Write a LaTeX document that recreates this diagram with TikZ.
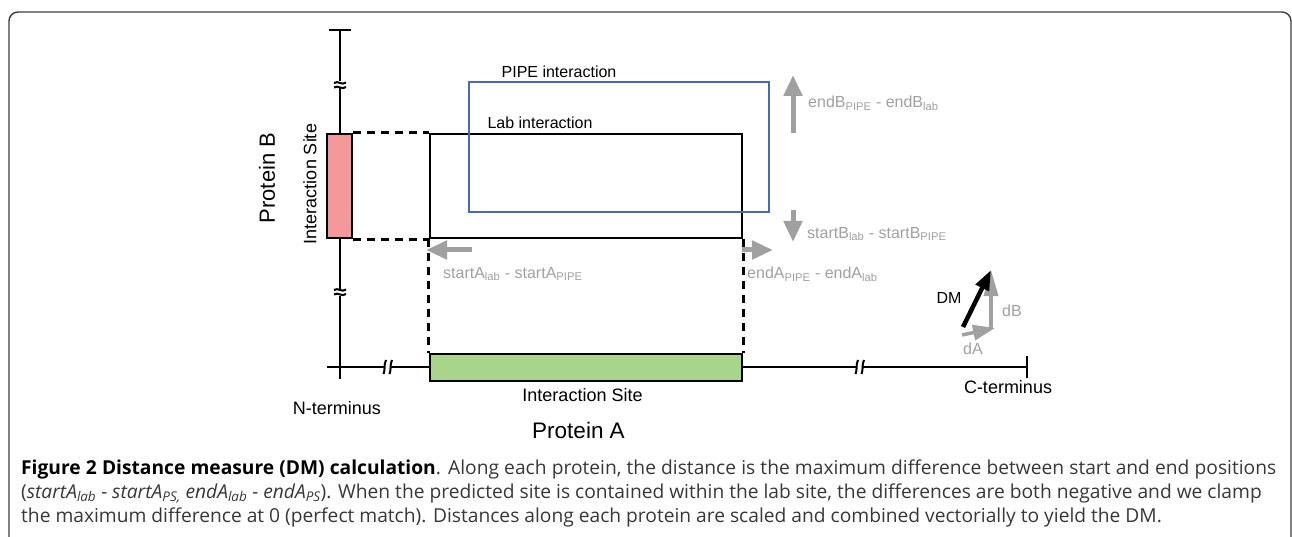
\documentclass[tikz,border=0pt]{standalone}
\usepackage{fontspec}
\setmainfont{Liberation Sans}
\newfontfamily\capfont{Open Sans}
\usetikzlibrary{arrows.meta}
\definecolor{redfill}{RGB}{244,153,154}
\definecolor{greenfill}{RGB}{168,212,140}
\definecolor{pipeblue}{RGB}{72,104,188}
\definecolor{lgray}{RGB}{160,160,160}
\definecolor{framec}{RGB}{60,60,60}
\definecolor{captext}{RGB}{55,55,55}
\newcommand\lsub[1]{\textsubscript{#1}}
\tikzset{
  fs/.style={font=\fontsize{#1}{#1}\selectfont},
  axisline/.style={line width=2.8pt, black},
  boxline/.style={draw=black, line width=2.8pt, inner sep=0pt},
  dashline/.style={line width=2.4pt, dash pattern=on 8pt off 6pt},
  garrow/.style={line width=5pt, lgray, -{Triangle[length=21pt,width=18pt]}},
  glabel/.style={lgray, fs=16, inner sep=0pt, anchor=west},
  blabel/.style={black, fs=16, inner sep=0pt},
  brk/.style={line width=2pt, black},
}
\begin{document}
\begin{tikzpicture}[x=1pt,y=-1pt]
\useasboundingbox (0,0) rectangle (1292,537);
% frame
\draw[framec, line width=1.4pt, rounded corners=9pt] (9,560) -- (9,12) -- (1291,12) -- (1291,560);

% axes
\coordinate (btop) at (340,30);
\coordinate (bbot) at (340,379);
\coordinate (aleft) at (327,367);
\coordinate (cend) at (1027,367);
\draw[axisline] (btop) -- (bbot);
\draw[axisline] (329,30) -- (351,30);
\draw[axisline] (aleft) -- (cend);
\draw[axisline] (1027,356) -- (1027,378);

% break marks on vertical axis
\foreach \yy in {85,292}{
  \fill[white] (333,\yy-3.5) rectangle (347,\yy+3.5);
  \draw[brk] (334,\yy-2) .. controls (338,\yy-5) and (342,\yy+1) .. (346,\yy-2.5);
  \draw[brk] (334,\yy+2.5) .. controls (338,\yy-0.5) and (342,\yy+5.5) .. (346,\yy+2);
}
% break marks on horizontal axis
\foreach \xx in {388,860}{
  \fill[white] (\xx-3,360) rectangle (\xx+3,374);
  \draw[brk] (\xx-4.5,374) .. controls (\xx-2.5,370) and (\xx-4.5,365) .. (\xx-2,360);
  \draw[brk] (\xx+1.5,374) .. controls (\xx+3.5,370) and (\xx+1.5,365) .. (\xx+4,360);
}

% boxes
\node[boxline, fill=redfill, minimum width=25pt, minimum height=104pt] (red) at (339.5,186) {};
\node[boxline, fill=greenfill, minimum width=312pt, minimum height=27pt] (green) at (586,367.5) {};
\node[boxline, minimum width=312pt, minimum height=104pt] (lab) at (586,186) {};
\node[draw=pipeblue, line width=2.2pt, inner sep=0pt, minimum width=300pt, minimum height=130pt] (pipe) at (619,147) {};

% dashed connectors
\draw[dashline] (red.north east) -- (lab.north west);
\draw[dashline] (red.south east) -- (lab.south west);
\draw[dashline] (lab.south west) -- (green.north west);
\draw[dashline] (lab.south east) -- (green.north east);

% labels
\node[blabel] (pipelbl) at (559,72) {PIPE interaction};
\node[blabel] (lablbl) at (540,123) {Lab interaction};
\node[fs=22, inner sep=0pt, rotate=90] (protB) at (267,178) {Protein B};
\node[fs=18, inner sep=0pt, rotate=90] (siteB) at (310,184) {Interaction Site};
\node[fs=18, inner sep=0pt] (siteA) at (582.5,395) {Interaction Site};
\node[fs=22.5, inner sep=0pt] (protA) at (578.5,430) {Protein A};
\node[fs=18, inner sep=0pt] (nterm) at (337,408) {N-terminus};
\node[fs=18, inner sep=0pt] (cterm) at (1008,387) {C-terminus};

% gray difference arrows
\coordinate (ub0) at (793,133); \coordinate (ub1) at (793,75);
\coordinate (db0) at (793,210); \coordinate (db1) at (793,242);
\coordinate (la0) at (472,250); \coordinate (la1) at (426,250);
\coordinate (ra0) at (742,250); \coordinate (ra1) at (773,250);
\draw[garrow] (ub0) -- (ub1);
\draw[garrow] (db0) -- (db1);
\draw[garrow] (la0) -- (la1);
\draw[garrow] (ra0) -- (ra1);
\node[glabel] (endB) at (808,103) {endB\lsub{PIPE} - endB\lsub{lab}};
\node[glabel] (startB) at (807,234) {startB\lsub{lab} - startB\lsub{PIPE}};
\node[glabel] (startA) at (443,274) {startA\lsub{lab} - startA\lsub{PIPE}};
\node[glabel] (endA) at (747,274) {endA\lsub{PIPE} - endA\lsub{lab}};

% DM vector
\coordinate (dm0) at (963,327);
\coordinate (dm1) at (991,270);
\coordinate (da0) at (962,335);
\coordinate (da1) at (995,328);
\coordinate (db0v) at (991,329);
\draw[line width=3.5pt, lgray, -{Triangle[length=22pt,width=15pt]}] (da0) -- (da1);
\draw[line width=3.5pt, lgray, -{Triangle[length=26pt,width=14pt]}] (db0v) -- (dm1);
\draw[line width=4.5pt, black, -{Triangle[length=20pt,width=14pt]}] (dm0) -- (dm1);
\node[blabel] (dmlbl) at (949,298) {DM};
\node[lgray, fs=16, inner sep=0pt] (dblbl) at (1012,311) {dB};
\node[lgray, fs=16, inner sep=0pt] (dalbl) at (973,349) {dA};

% caption
\begin{scope}[every node/.style={inner sep=0pt, anchor=base west, text=captext, font=\capfont\fontsize{19.2}{22}\selectfont}]
\node (cap1) at (21,474) {\makebox[1255pt][s]{\textbf{\color{black}Figure 2 Distance measure (DM) calculation}. Along each protein, the distance is the maximum difference between start and end positions}};
\node (cap2) at (21,498) {(\textit{startA\lsub{lab} - startA\lsub{PS,} endA\lsub{lab} - endA\lsub{PS}}). When the predicted site is contained within the lab site, the differences are both negative and we clamp};
\node (cap3) at (21,522) {the maximum difference at 0 (perfect match). Distances along each protein are scaled and combined vectorially to yield the DM.};
\end{scope}
\end{tikzpicture}
\end{document}
